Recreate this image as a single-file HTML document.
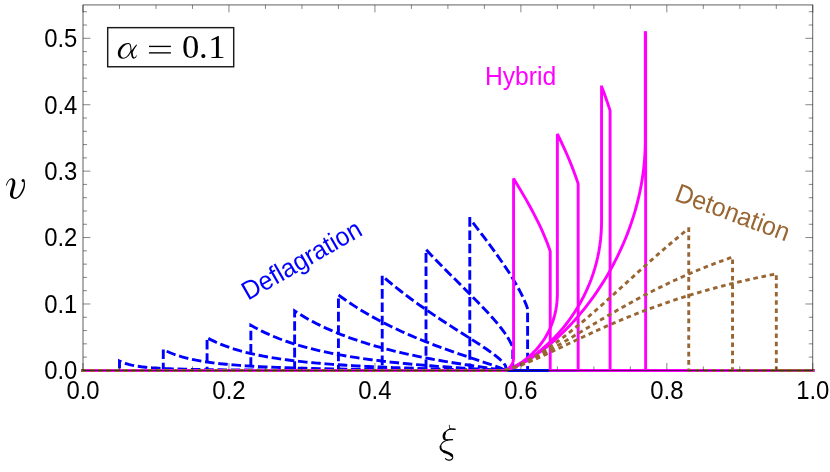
<!DOCTYPE html>
<html><head><meta charset="utf-8"><title>plot</title>
<style>
html,body{margin:0;padding:0;background:#fff;}
body{width:830px;height:472px;overflow:hidden;font-family:"Liberation Sans",sans-serif;}
svg{display:block;will-change:transform;}
.tl{font-family:"Liberation Sans",sans-serif;font-size:25px;fill:#000;}
.lab{font-family:"Liberation Sans",sans-serif;font-size:25px;}
.b{fill:none;stroke:#0000ff;stroke-width:2.9;stroke-dasharray:6.65 6.65;stroke-linecap:square;stroke-linejoin:miter;stroke-miterlimit:3;}
.m{fill:none;stroke:#ff00ff;stroke-width:2.9;stroke-linecap:square;stroke-linejoin:miter;stroke-miterlimit:3;}
.d{fill:none;stroke:#996633;stroke-width:2.9;stroke-dasharray:1.7 6.6;stroke-linecap:square;stroke-linejoin:miter;stroke-miterlimit:3;}
</style></head><body>
<svg width="830" height="472" viewBox="0 0 830 472">
<rect x="0" y="0" width="830" height="472" fill="#ffffff"/>
<g class="b">
<path d="M83.00 370.40 L119.49 370.40 L119.49 360.97 L121.51 361.94 L123.72 362.84 L126.13 363.67 L128.73 364.42 L131.52 365.09 L134.50 365.70 L137.78 366.25 L141.34 366.75 L145.19 367.19 L149.32 367.59 L153.85 367.94 L158.85 368.27 L170.30 368.81 L184.16 369.23 L200.14 369.55 L219.67 369.79 L243.83 369.98 L273.95 370.12 L359.51 370.31 L504.35 370.40 L504.35 370.40 L812.80 370.40"/>
<path d="M83.00 370.40 L163.28 370.40 L163.28 349.53 L166.60 351.20 L170.19 352.78 L173.94 354.25 L177.86 355.60 L182.04 356.87 L186.48 358.06 L191.17 359.16 L196.20 360.19 L201.49 361.14 L207.12 362.02 L213.09 362.84 L219.48 363.60 L226.22 364.29 L233.47 364.93 L241.15 365.52 L249.42 366.07 L258.03 366.56 L267.33 367.01 L277.22 367.42 L287.89 367.80 L311.51 368.47 L338.97 369.02 L370.79 369.48 L408.06 369.85 L451.98 370.15 L504.35 370.40 L504.35 370.40 L812.80 370.40"/>
<path d="M83.00 370.40 L207.07 370.40 L207.07 337.73 L211.15 339.89 L215.39 341.93 L219.85 343.89 L224.46 345.72 L229.29 347.47 L234.35 349.12 L239.63 350.69 L245.13 352.17 L250.93 353.58 L256.95 354.90 L263.27 356.15 L269.88 357.33 L276.80 358.44 L284.08 359.49 L291.74 360.48 L299.77 361.41 L308.09 362.28 L316.87 363.10 L326.08 363.87 L335.82 364.59 L346.01 365.27 L356.79 365.90 L368.16 366.50 L380.13 367.06 L392.69 367.58 L406.00 368.07 L434.92 368.95 L467.18 369.71 L504.35 370.40 L504.35 370.40 L812.80 370.40"/>
<path d="M83.00 370.40 L250.85 370.40 L250.85 325.16 L255.23 327.66 L259.73 330.06 L264.36 332.35 L269.17 334.57 L274.12 336.69 L279.25 338.74 L284.58 340.71 L290.09 342.60 L295.73 344.40 L301.63 346.14 L307.71 347.81 L314.05 349.42 L320.58 350.95 L327.37 352.42 L334.34 353.82 L341.63 355.17 L349.11 356.46 L356.84 357.68 L364.89 358.86 L373.20 359.98 L381.82 361.06 L390.82 362.09 L400.14 363.08 L409.84 364.02 L419.79 364.92 L430.12 365.77 L440.90 366.59 L452.12 367.38 L475.51 368.84 L504.35 370.40 L504.35 370.40 L812.80 370.40"/>
<path d="M83.00 370.40 L294.64 370.40 L294.64 310.95 L298.84 313.63 L303.19 316.27 L307.59 318.81 L312.16 321.31 L316.77 323.70 L321.54 326.05 L326.42 328.34 L331.46 330.57 L336.59 332.74 L341.84 334.83 L347.24 336.88 L352.80 338.88 L358.51 340.83 L364.33 342.71 L370.31 344.55 L376.45 346.33 L382.58 348.03 L388.88 349.68 L395.33 351.29 L401.93 352.85 L408.75 354.38 L415.73 355.87 L422.91 357.33 L430.36 358.77 L444.73 361.35 L460.09 363.87 L475.88 366.26 L500.31 369.74 L504.35 370.40 L504.35 370.40 L812.80 370.40"/>
<path d="M83.00 370.40 L338.43 370.40 L338.43 294.94 L341.92 297.49 L345.44 299.99 L349.05 302.46 L352.71 304.89 L356.44 307.30 L360.22 309.66 L364.08 311.99 L368.02 314.31 L372.01 316.58 L376.07 318.82 L384.41 323.22 L393.05 327.50 L402.05 331.71 L409.86 335.17 L417.91 338.57 L426.29 341.94 L435.05 345.32 L445.13 349.03 L456.01 352.86 L466.63 356.47 L487.17 363.32 L494.85 365.98 L498.80 367.45 L501.70 368.65 L503.61 369.61 L504.15 369.98 L504.40 370.27 L504.40 370.40 L812.80 370.40"/>
<path d="M83.00 370.40 L382.22 370.40 L382.22 275.92 L386.79 279.83 L391.49 283.74 L396.31 287.63 L401.22 291.50 L406.25 295.36 L411.44 299.23 L416.79 303.12 L422.29 307.03 L430.78 312.90 L439.90 319.00 L451.23 326.38 L471.59 339.35 L478.94 344.10 L486.39 349.07 L492.29 353.23 L495.13 355.37 L497.60 357.34 L499.74 359.17 L501.56 360.88 L503.07 362.48 L504.28 363.95 L505.17 365.32 L505.76 366.56 L505.76 370.40 L812.80 370.40"/>
<path d="M83.00 370.40 L426.01 370.40 L426.01 249.63 L434.08 258.08 L442.93 267.14 L451.46 275.72 L469.92 294.12 L478.17 302.47 L486.08 310.73 L489.51 314.44 L492.64 317.91 L496.52 322.40 L499.97 326.62 L503.01 330.58 L505.68 334.34 L507.98 337.91 L509.93 341.32 L511.51 344.53 L512.19 346.10 L512.77 347.63 L512.77 370.40 L812.80 370.40"/>
<path d="M83.00 370.40 L469.79 370.40 L469.79 218.54 L483.99 237.21 L489.22 244.22 L493.86 250.55 L498.20 256.59 L502.16 262.25 L505.78 267.61 L509.12 272.71 L512.30 277.77 L515.22 282.65 L517.88 287.34 L520.28 291.84 L522.46 296.24 L524.40 300.48 L526.11 304.58 L527.60 308.59 L527.60 370.40 L812.80 370.40"/>
</g>
<g class="m">
<path d="M83.00 370.40 L504.35 370.40 L505.18 370.17 L506.17 369.77 L507.13 369.27 L508.07 368.67 L508.92 368.03 L509.73 367.30 L510.47 366.51 L511.13 365.69 L511.70 364.83 L512.20 363.92 L512.62 362.97 L512.96 361.99 L513.23 360.96 L513.43 359.89 L513.54 358.79 L513.58 357.66 L513.58 178.45 L520.33 189.63 L526.28 199.89 L529.00 204.75 L531.58 209.48 L534.00 214.06 L536.29 218.54 L538.46 222.93 L540.50 227.23 L542.42 231.43 L544.21 235.55 L545.89 239.60 L547.45 243.56 L548.89 247.47 L550.22 251.30 L550.22 370.40 L812.80 370.40"/>
<path d="M83.00 370.40 L504.35 370.40 L505.22 370.22 L506.37 369.90 L508.92 369.02 L511.62 367.89 L514.36 366.56 L517.13 365.06 L519.83 363.43 L522.54 361.62 L525.18 359.70 L527.66 357.73 L530.13 355.61 L532.54 353.36 L534.77 351.11 L536.98 348.69 L539.07 346.23 L541.11 343.62 L542.98 341.01 L544.68 338.43 L546.29 335.77 L547.81 333.03 L549.22 330.24 L550.51 327.41 L551.69 324.55 L552.79 321.54 L553.75 318.55 L554.61 315.46 L555.33 312.46 L555.96 309.30 L556.46 306.19 L556.86 302.98 L557.15 299.74 L557.31 296.48 L557.37 293.16 L557.37 133.95 L560.68 140.75 L563.76 147.34 L566.64 153.76 L569.31 160.03 L571.80 166.16 L574.10 172.18 L576.22 178.09 L578.16 183.89 L578.16 370.40 L812.80 370.40"/>
<path d="M83.00 370.40 L504.35 370.40 L505.89 370.06 L507.93 369.45 L510.08 368.70 L512.41 367.78 L514.79 366.74 L517.21 365.59 L519.62 364.37 L522.10 363.02 L524.60 361.57 L527.05 360.07 L529.54 358.46 L531.89 356.87 L534.36 355.12 L536.78 353.32 L539.13 351.49 L541.55 349.52 L546.05 345.64 L550.55 341.46 L554.96 337.02 L559.23 332.38 L563.30 327.61 L565.42 324.98 L567.33 322.51 L571.09 317.38 L574.55 312.27 L577.86 306.96 L580.84 301.79 L583.65 296.49 L586.25 291.12 L588.65 285.70 L590.94 279.96 L592.97 274.27 L594.74 268.65 L596.34 262.89 L597.73 257.04 L598.89 251.22 L599.85 245.29 L600.61 239.24 L601.14 233.22 L601.45 227.24 L601.56 221.09 L601.56 85.45 L601.56 86.47 L603.92 92.64 L606.13 98.73 L608.18 104.73 L610.09 110.66 L610.09 370.40 L812.80 370.40"/>
<path d="M83.00 370.40 L504.35 370.40 L505.29 370.21 L506.53 369.89 L509.35 368.99 L512.40 367.85 L515.62 366.48 L518.89 364.94 L522.19 363.25 L525.59 361.37 L529.11 359.29 L532.48 357.16 L535.96 354.84 L539.51 352.35 L542.86 349.87 L546.16 347.31 L549.62 344.51 L552.98 341.66 L556.46 338.59 L559.79 335.52 L562.94 332.51 L566.15 329.32 L569.42 325.94 L572.74 322.38 L575.81 318.96 L578.91 315.39 L582.01 311.67 L585.12 307.81 L587.95 304.17 L590.76 300.43 L593.55 296.57 L596.31 292.61 L599.05 288.56 L601.74 284.41 L604.38 280.18 L606.97 275.88 L609.24 271.95 L611.71 267.52 L613.86 263.50 L615.95 259.44 L617.98 255.35 L619.93 251.24 L622.02 246.67 L623.82 242.54 L625.72 237.96 L627.35 233.86 L629.07 229.31 L630.69 224.80 L632.20 220.33 L633.61 215.91 L634.92 211.56 L636.14 207.27 L637.36 202.65 L638.47 198.14 L639.47 193.74 L640.36 189.47 L641.23 184.96 L642.04 180.27 L642.72 175.80 L643.34 171.24 L643.85 166.95 L644.30 162.41 L644.66 158.01 L644.95 153.42 L645.15 148.95 L645.27 144.45 L645.31 140.03 L645.31 31.20 L645.65 33.23 L645.65 370.40 L812.80 370.40"/>
</g>
<g class="d">
<path d="M83.00 370.40 L504.35 370.40 L505.30 370.21 L506.59 369.88 L509.55 368.97 L512.77 367.81 L516.24 366.39 L519.74 364.82 L523.35 363.08 L527.10 361.13 L531.04 358.96 L534.90 356.72 L538.92 354.27 L542.85 351.76 L547.06 348.97 L551.30 346.05 L555.54 343.04 L559.97 339.78 L564.60 336.27 L571.04 331.21 L577.49 325.98 L584.48 320.15 L591.68 313.97 L599.05 307.51 L607.49 299.97 L641.81 268.77 L649.74 261.64 L656.99 255.20 L665.48 247.80 L673.38 241.07 L681.14 234.63 L688.73 228.50 L688.73 370.40 L812.80 370.40"/>
<path d="M83.00 370.40 L504.35 370.40 L505.58 370.16 L507.24 369.73 L511.07 368.55 L515.28 367.03 L519.91 365.17 L524.70 363.06 L529.90 360.61 L535.28 357.93 L541.02 354.93 L545.66 352.41 L550.46 349.74 L561.13 343.61 L571.73 337.33 L602.17 319.09 L611.73 313.47 L620.89 308.19 L630.79 302.64 L640.11 297.57 L649.61 292.58 L658.78 287.94 L667.95 283.48 L677.03 279.24 L685.90 275.26 L695.22 271.27 L704.31 267.55 L713.78 263.85 L723.10 260.39 L732.52 257.05 L732.52 370.40 L812.80 370.40"/>
<path d="M83.00 370.40 L504.35 370.40 L506.16 370.03 L508.65 369.38 L511.44 368.54 L514.54 367.52 L517.76 366.37 L521.26 365.05 L528.81 361.99 L535.98 358.89 L544.17 355.19 L553.30 350.94 L575.91 340.24 L586.94 335.08 L598.67 329.72 L609.69 324.83 L622.45 319.40 L634.62 314.47 L646.40 309.92 L658.71 305.42 L665.87 302.92 L672.59 300.66 L679.39 298.44 L686.25 296.27 L693.15 294.16 L700.63 291.96 L707.50 290.01 L714.88 287.99 L722.13 286.08 L729.72 284.16 L737.03 282.37 L744.91 280.52 L752.61 278.79 L760.20 277.14 L768.23 275.47 L776.31 273.85 L776.31 370.40 L812.80 370.40"/>
</g>
<rect x="83.00" y="4.95" width="729.80" height="365.45" fill="none" stroke="#111111" stroke-width="0.66"/>
<path d="M83.00 4.95 v7.40 M83.00 370.40 v-7.40 M119.49 4.95 v4.00 M119.49 370.40 v-4.00 M155.98 4.95 v4.00 M155.98 370.40 v-4.00 M192.47 4.95 v4.00 M192.47 370.40 v-4.00 M228.96 4.95 v7.40 M228.96 370.40 v-7.40 M265.45 4.95 v4.00 M265.45 370.40 v-4.00 M301.94 4.95 v4.00 M301.94 370.40 v-4.00 M338.43 4.95 v4.00 M338.43 370.40 v-4.00 M374.92 4.95 v7.40 M374.92 370.40 v-7.40 M411.41 4.95 v4.00 M411.41 370.40 v-4.00 M447.90 4.95 v4.00 M447.90 370.40 v-4.00 M484.39 4.95 v4.00 M484.39 370.40 v-4.00 M520.88 4.95 v7.40 M520.88 370.40 v-7.40 M557.37 4.95 v4.00 M557.37 370.40 v-4.00 M593.86 4.95 v4.00 M593.86 370.40 v-4.00 M630.35 4.95 v4.00 M630.35 370.40 v-4.00 M666.84 4.95 v7.40 M666.84 370.40 v-7.40 M703.33 4.95 v4.00 M703.33 370.40 v-4.00 M739.82 4.95 v4.00 M739.82 370.40 v-4.00 M776.31 4.95 v4.00 M776.31 370.40 v-4.00 M812.80 4.95 v7.40 M812.80 370.40 v-7.40 M83.00 370.40 h7.40 M812.80 370.40 h-7.40 M83.00 357.12 h4.00 M812.80 357.12 h-4.00 M83.00 343.83 h4.00 M812.80 343.83 h-4.00 M83.00 330.55 h4.00 M812.80 330.55 h-4.00 M83.00 317.26 h4.00 M812.80 317.26 h-4.00 M83.00 303.98 h7.40 M812.80 303.98 h-7.40 M83.00 290.70 h4.00 M812.80 290.70 h-4.00 M83.00 277.41 h4.00 M812.80 277.41 h-4.00 M83.00 264.13 h4.00 M812.80 264.13 h-4.00 M83.00 250.84 h4.00 M812.80 250.84 h-4.00 M83.00 237.56 h7.40 M812.80 237.56 h-7.40 M83.00 224.28 h4.00 M812.80 224.28 h-4.00 M83.00 210.99 h4.00 M812.80 210.99 h-4.00 M83.00 197.71 h4.00 M812.80 197.71 h-4.00 M83.00 184.42 h4.00 M812.80 184.42 h-4.00 M83.00 171.14 h7.40 M812.80 171.14 h-7.40 M83.00 157.86 h4.00 M812.80 157.86 h-4.00 M83.00 144.57 h4.00 M812.80 144.57 h-4.00 M83.00 131.29 h4.00 M812.80 131.29 h-4.00 M83.00 118.00 h4.00 M812.80 118.00 h-4.00 M83.00 104.72 h7.40 M812.80 104.72 h-7.40 M83.00 91.44 h4.00 M812.80 91.44 h-4.00 M83.00 78.15 h4.00 M812.80 78.15 h-4.00 M83.00 64.87 h4.00 M812.80 64.87 h-4.00 M83.00 51.58 h4.00 M812.80 51.58 h-4.00 M83.00 38.30 h7.40 M812.80 38.30 h-7.40 M83.00 25.02 h4.00 M812.80 25.02 h-4.00 M83.00 11.73 h4.00 M812.80 11.73 h-4.00" fill="none" stroke="#222222" stroke-width="0.55"/>
<text class="tl" transform="translate(77.4 379.30) scale(0.955 1)" text-anchor="end">0.0</text>
<text class="tl" transform="translate(77.4 312.88) scale(0.955 1)" text-anchor="end">0.1</text>
<text class="tl" transform="translate(77.4 246.46) scale(0.955 1)" text-anchor="end">0.2</text>
<text class="tl" transform="translate(77.4 180.04) scale(0.955 1)" text-anchor="end">0.3</text>
<text class="tl" transform="translate(77.4 113.62) scale(0.955 1)" text-anchor="end">0.4</text>
<text class="tl" transform="translate(77.4 47.20) scale(0.955 1)" text-anchor="end">0.5</text>
<text class="tl" transform="translate(83.00 398.8) scale(0.955 1)" text-anchor="middle">0.0</text>
<text class="tl" transform="translate(228.96 398.8) scale(0.955 1)" text-anchor="middle">0.2</text>
<text class="tl" transform="translate(374.92 398.8) scale(0.955 1)" text-anchor="middle">0.4</text>
<text class="tl" transform="translate(520.88 398.8) scale(0.955 1)" text-anchor="middle">0.6</text>
<text class="tl" transform="translate(666.84 398.8) scale(0.955 1)" text-anchor="middle">0.8</text>
<text class="tl" transform="translate(812.80 398.8) scale(0.955 1)" text-anchor="middle">1.0</text>
<text class="lab" fill="#0000ff" style="font-size:26.1px" transform="translate(248.0 300.8) rotate(-29.8) scale(0.95 1)">Deflagration</text>
<text class="lab" fill="#ff00ff" style="font-size:26px" transform="translate(484.9 84.6) scale(0.95 1)">Hybrid</text>
<text class="lab" fill="#996633" style="font-size:26.1px" transform="translate(673.6 199.9) rotate(20.4) scale(0.95 1)">Detonation</text>
<rect x="107.7" y="27.65" width="126.0" height="39.1" fill="#fff" stroke="#1a1a1a" stroke-width="1.45"/>
<g transform="translate(110 30) scale(0.07831)" fill="#000" stroke="none"><path fill-rule="evenodd" d="M238 166 C168 162 98 225 100 302 C102 346 133 369 170 367 C212 364 250 326 268 285 L262 262 C246 305 212 353 176 353 C148 353 134 335 134 300 C134 240 195 178 234 178 C256 180 262 215 262 262 L268 285 C270 320 274 366 304 366 C324 366 338 346 342 326 L334 324 C330 340 322 350 312 350 C296 350 292 318 290 284 C305 252 325 220 346 190 L336 186 C314 210 294 238 276 262 C274 210 268 168 238 166 Z"/></g>
<rect x="149.0" y="45.75" width="21.9" height="1.35" fill="#000"/>
<rect x="149.0" y="52.2" width="21.9" height="1.35" fill="#000"/>
<text x="181.9 199.0 208.2" y="58.35" style="font-family:'Liberation Serif',serif;font-size:34.6px" fill="#000">0.1</text>
<g transform="translate(0 170) scale(0.07628)" fill="#000" stroke="none"><path d="M185 120 C203 135 205 165 198 200 C190 240 172 285 171 320 C170 345 182 362 202 362 C245 360 285 285 306 220 C314 190 315 165 305 152 L322 140 C334 180 328 225 314 260 C292 318 248 380 198 380 C155 380 128 352 130 312 C133 268 160 215 164 170 C166 140 158 124 146 124 C120 126 98 170 86 208 L76 204 C90 160 118 110 152 108 C165 107 176 111 185 120 Z"/><circle cx="303" cy="138" r="20"/></g>
<g transform="translate(426 420) scale(0.09320)" fill="none" stroke="#000" stroke-linecap="round" stroke-linejoin="round"><path stroke-width="8" d="M250 56 L254 92"/><path stroke-width="16" d="M262 97 L312 99"/><path stroke-width="12" d="M262 96 C238 100 214 118 200 140"/><path stroke-width="26" d="M202 140 C190 160 188 183 198 200"/><path stroke-width="12" d="M196 203 C204 212 215 216 230 215"/><path stroke-width="15" d="M222 214 L284 211"/><path stroke-width="11" d="M225 217 C195 226 162 250 154 285"/><path stroke-width="20" d="M156 283 C152 308 168 328 197 340"/><path stroke-width="30" d="M197 340 C225 350 260 360 276 380"/><path stroke-width="12" d="M283 385 C292 402 285 420 265 428 C245 434 222 430 208 414"/></g>
</svg>
</body></html>
